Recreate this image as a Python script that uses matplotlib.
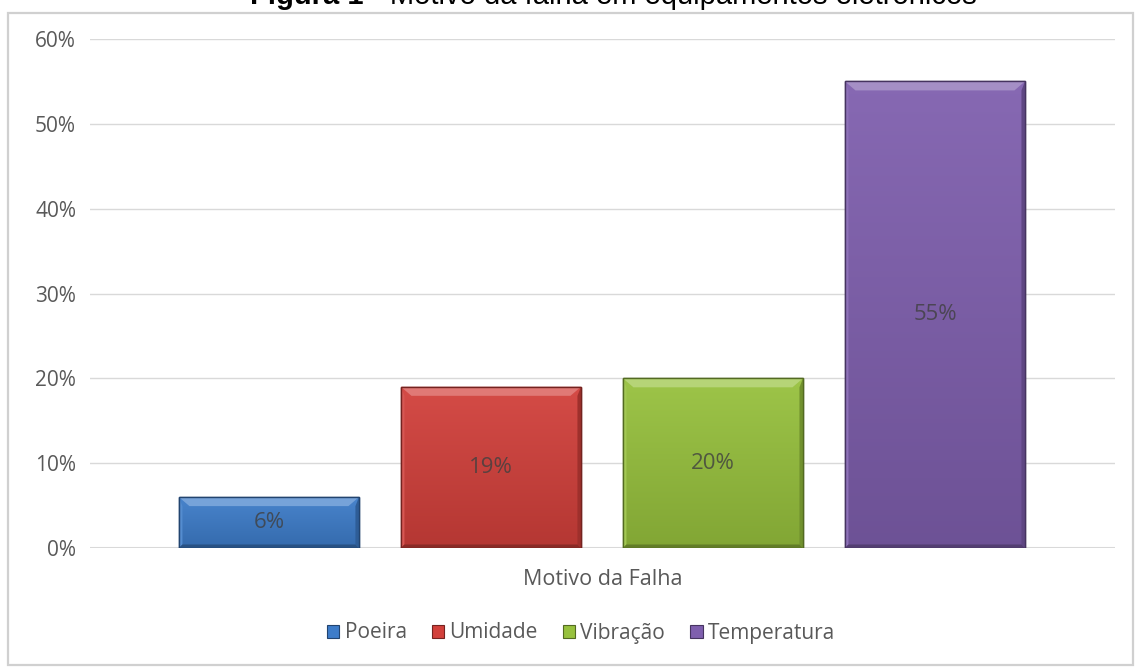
import numpy as np
import matplotlib
matplotlib.use("Agg")
import matplotlib.pyplot as plt
from matplotlib.patches import Polygon, Rectangle, Patch
from matplotlib.colors import to_rgb

# Data
categories = ["Poeira", "Umidade", "Vibração", "Temperatura"]
values = [0.06, 0.19, 0.20, 0.55]
colors = ["#3d7cc9", "#d2403b", "#97c13d", "#7f5fae"]
yticks = [0.0, 0.1, 0.2, 0.3, 0.4, 0.5, 0.6]
ytick_labels = ["0%", "10%", "20%", "30%", "40%", "50%", "60%"]
group_label = "Motivo da Falha"
title_bold = "Figura 1"
title_rest = " - Motivo da falha em equipamentos eletrônicos"

plt.rcParams["font.family"] = ["Open Sans", "DejaVu Sans"]
TXT = "#595959"
GRID = "#d9d9d9"
FS = 15

W, H = 1139, 669
fig = plt.figure(figsize=(W / 100, H / 100), dpi=100)

# Outer chart frame
fig.patches.append(Rectangle((8 / W, 4 / H), 1125 / W, 652 / H,
                             transform=fig.transFigure, fill=False,
                             edgecolor="#d0d0d0", lw=1.6, zorder=0))

ax = fig.add_axes([90 / W, 121 / H, 1025 / W, 509 / H])
x = np.arange(len(categories))
bar_w = 180 / 222
ax.set_xlim(-0.806, 3.811)
ax.set_ylim(0, 0.6)

for s in ax.spines.values():
    s.set_visible(False)
ax.set_yticks(yticks)
ax.set_yticklabels(ytick_labels, color=TXT, fontsize=FS)
ax.tick_params(axis="y", length=0, pad=10)
ax.set_xticks([])
ax.grid(axis="y", color=GRID, lw=1.0)
ax.set_axisbelow(True)
ax.axhline(0, color=GRID, lw=1.5, zorder=1)


def shade(c, f):
    r = np.array(to_rgb(c))
    if f >= 0:
        return tuple(r + (1 - r) * f)
    return tuple(r * (1 + f))


bars = ax.bar(x, values, width=bar_w, color=colors, zorder=2)

# pixel -> data conversion
px_x = (ax.get_xlim()[1] - ax.get_xlim()[0]) / ax.bbox.width
px_y = (ax.get_ylim()[1] - ax.get_ylim()[0]) / ax.bbox.height

grad = np.linspace(0, 1, 256).reshape(-1, 1)
for bar, c, v in zip(bars, colors, values):
    x0, y0 = bar.get_x(), bar.get_y()
    x1, y1 = x0 + bar.get_width(), y0 + bar.get_height()
    bar.set_edgecolor(shade(c, -0.45))
    bar.set_linewidth(1.0)
    # vertical gradient on the face
    top, bot = np.array(shade(c, 0.06)), np.array(shade(c, -0.14))
    img = bot + (top - bot) * grad[..., None]
    im = ax.imshow(img, extent=(x0, x1, y0, y1), origin="lower",
                   aspect="auto", zorder=2.1)
    im.set_clip_path(bar)
    bt = 9 * px_y
    bs = 3.5 * px_x
    bb = 3.5 * px_y
    # top bevel
    ax.add_patch(Polygon([(x0, y1), (x1, y1), (x1 - bs * 3, y1 - bt), (x0 + bs * 3, y1 - bt)],
                         closed=True, color=shade(c, 0.3), lw=0, zorder=2.2))
    # left / right bevels
    ax.add_patch(Polygon([(x0, y0), (x0, y1), (x0 + bs, y1 - bt), (x0 + bs, y0 + bb)],
                         closed=True, color=shade(c, 0.12), lw=0, zorder=2.2))
    ax.add_patch(Polygon([(x1, y0), (x1, y1), (x1 - bs, y1 - bt), (x1 - bs, y0 + bb)],
                         closed=True, color=shade(c, -0.25), lw=0, zorder=2.2))
    # bottom bevel
    ax.add_patch(Polygon([(x0, y0), (x1, y0), (x1 - bs, y0 + bb), (x0 + bs, y0 + bb)],
                         closed=True, color=shade(c, -0.35), lw=0, zorder=2.2))
    ax.add_patch(Rectangle((x0, y0), x1 - x0, y1 - y0, fill=False,
                           edgecolor=shade(c, -0.45), lw=1.0, zorder=2.3))
    ax.text(x0 + (x1 - x0) / 2, v / 2, f"{round(v * 100)}%", ha="center",
            va="center", fontsize=16, color="#404040", alpha=0.8, zorder=3)

ax.text(0.5, -0.042, group_label, transform=ax.transAxes, ha="center",
        va="top", fontsize=15.5, color=TXT)

handles = [Patch(facecolor=c, edgecolor=shade(c, -0.45), lw=0.8) for c in colors]
fig.legend(handles, categories, loc="center", bbox_to_anchor=(581 / W, 1 - 633 / H),
           ncol=4, frameon=False, fontsize=FS, labelcolor=TXT,
           handlelength=0.6, handleheight=0.6, handletextpad=0.25,
           columnspacing=1.2)

# Title (its upper part runs past the top edge)
fig.canvas.draw()
ref = fig.text(0, 0, title_bold + title_rest, fontsize=21, family="Liberation Sans")
fig.canvas.draw()
total_w = ref.get_window_extent().width
ref.remove()
t1 = fig.text((610 - total_w / 2) / W, 1 - 4 / H, title_bold, fontsize=21,
              fontweight="bold", family="Liberation Sans", ha="left",
              va="baseline", color="black")
fig.canvas.draw()
bb1 = t1.get_window_extent()
fig.text(bb1.x1 / W, 1 - 4 / H, title_rest, fontsize=21,
         family="Liberation Sans", ha="left", va="baseline", color="black")

fig.savefig("out.png", dpi=100, facecolor="white")
